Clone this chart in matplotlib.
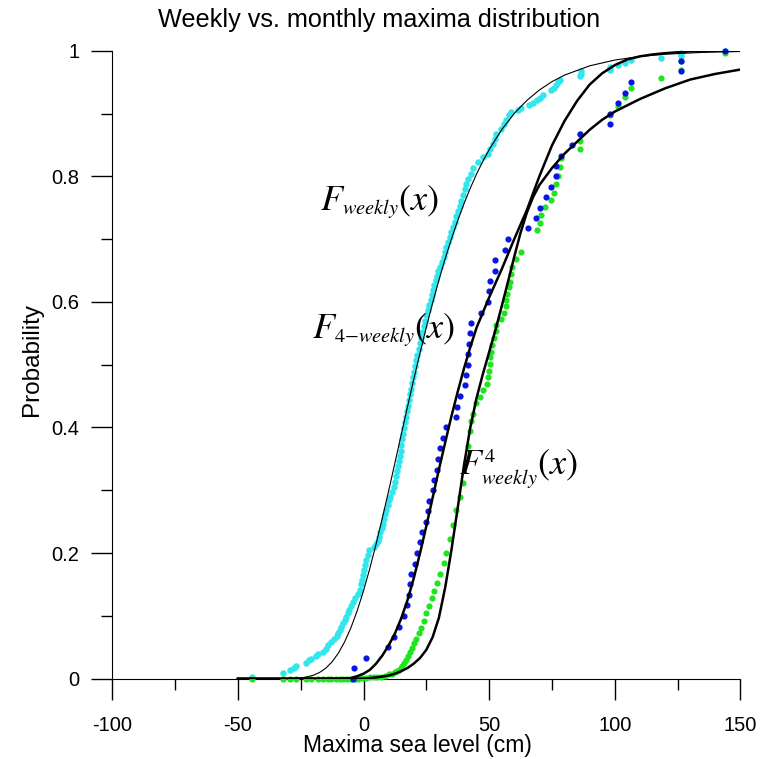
import numpy as np
import matplotlib
matplotlib.use("Agg")
import matplotlib.pyplot as plt
import matplotlib._mathtext as mathtext_core

plt.rcParams['font.family'] = ['Liberation Sans', 'DejaVu Sans']
plt.rcParams['mathtext.fontset'] = 'stix'
plt.rcParams['axes.unicode_minus'] = False
# smaller sub/superscripts in the curve labels
mathtext_core.SHRINK_FACTOR = 0.56

# weekly maxima, empirical distribution
weekly_x = [-44.4, -32.1, -29.1, -27.8, -27.0, -22.8, -21.8, -20.8, -19.0, -18.2,
            -16.2, -15.0, -14.2, -12.8, -11.8, -10.6, -10.0, -9.5, -8.8, -8.0,
            -7.5, -6.8, -6.2, -5.8, -5.1, -4.2, -3.4, -2.2, -1.6, -0.9,
            -0.6, -0.3, 0.0, 0.5, 1.1, 1.6, 2.2, 4.0, 5.1, 5.6,
            6.1, 6.6, 7.2, 7.7, 8.2, 8.6, 9.1, 9.6, 10.1, 10.6,
            11.4, 12.0, 12.6, 13.1, 13.5, 13.8, 14.1, 14.4, 14.8, 15.1,
            15.4, 15.7, 16.2, 16.7, 17.1, 17.4, 17.7, 18.0, 18.5, 19.0,
            19.4, 19.8, 20.2, 20.6, 21.0, 21.4, 21.9, 22.4, 22.9, 23.4,
            23.9, 24.3, 24.9, 25.5, 26.1, 26.7, 27.2, 27.6, 28.2, 28.8,
            29.3, 29.8, 30.5, 31.2, 31.9, 32.5, 33.0, 33.6, 34.3, 35.0,
            35.6, 36.3, 37.0, 37.6, 38.3, 39.0, 39.6, 40.3, 40.9, 41.6,
            42.9, 43.6, 45.5, 47.5, 49.5, 50.5, 51.5, 52.2, 52.9, 54.9,
            55.8, 56.8, 57.8, 58.8, 61.5, 62.8, 65.8, 67.4, 69.0, 70.2,
            71.4, 74.8, 75.8, 76.7, 77.5, 78.3, 86.3, 86.5, 86.7, 98.0,
            98.2, 101.3, 103.9, 106.3, 118.5, 126.5, 126.5, 143.7]
weekly_p = [0.003, 0.009, 0.014, 0.017, 0.020, 0.025, 0.029, 0.032, 0.036, 0.039,
            0.043, 0.048, 0.053, 0.058, 0.063, 0.068, 0.073, 0.078, 0.083, 0.088,
            0.093, 0.099, 0.104, 0.109, 0.115, 0.122, 0.128, 0.135, 0.142, 0.150,
            0.157, 0.165, 0.173, 0.181, 0.189, 0.197, 0.205, 0.210, 0.214, 0.220,
            0.226, 0.233, 0.240, 0.247, 0.255, 0.262, 0.269, 0.277, 0.285, 0.290,
            0.298, 0.306, 0.314, 0.322, 0.330, 0.338, 0.346, 0.354, 0.363, 0.372,
            0.381, 0.390, 0.399, 0.408, 0.417, 0.426, 0.435, 0.444, 0.453, 0.462,
            0.471, 0.480, 0.489, 0.498, 0.507, 0.516, 0.525, 0.534, 0.543, 0.552,
            0.561, 0.570, 0.579, 0.587, 0.595, 0.603, 0.611, 0.619, 0.627, 0.635,
            0.642, 0.649, 0.656, 0.664, 0.672, 0.680, 0.688, 0.696, 0.704, 0.712,
            0.720, 0.728, 0.736, 0.744, 0.752, 0.761, 0.770, 0.779, 0.788, 0.796,
            0.804, 0.813, 0.822, 0.830, 0.836, 0.844, 0.852, 0.860, 0.867, 0.876,
            0.883, 0.890, 0.897, 0.903, 0.906, 0.909, 0.913, 0.917, 0.921, 0.925,
            0.929, 0.937, 0.941, 0.945, 0.950, 0.954, 0.959, 0.963, 0.967, 0.970,
            0.974, 0.977, 0.981, 0.985, 0.989, 0.992, 0.996, 0.999]

# weekly distribution to the 4th power
pow4_x = [-44.4, -32.1, -29.1, -27.0, -22.8, -20.8, -18.2, -16.2, -14.2, -12.8,
          -11.0, -9.5, -8.0, -6.5, -5.0, -3.5, -2.0, -0.5, 1.0, 2.4,
          4.0, 5.5, 7.0, 8.5, 10.1, 11.4, 12.6, 13.5, 14.1, 14.8,
          15.4, 16.2, 17.1, 17.7, 18.5, 19.4, 20.2, 21.0, 21.9, 22.9,
          23.9, 24.9, 26.1, 27.2, 28.2, 29.3, 30.5, 31.9, 33.0, 34.3,
          35.6, 37.0, 38.3, 39.6, 40.9, 41.6, 42.2, 42.9, 43.6, 44.9,
          46.2, 47.5, 49.1, 49.5, 49.9, 50.2, 50.5, 50.9, 51.3, 51.8,
          52.6, 52.9, 54.9, 55.8, 56.6, 56.8, 57.1, 57.9, 58.2, 58.8,
          59.1, 60.8, 62.8, 69.0, 70.1, 70.8, 72.1, 74.8, 75.8, 76.7,
          77.5, 78.3, 78.7, 86.3, 86.3, 86.3, 98.0, 101.3, 103.9, 106.3,
          118.5, 126.5, 126.5, 143.7]
pow4_p = [0.000, 0.000, 0.000, 0.000, 0.000, 0.000, 0.000, 0.000, 0.000, 0.000,
          0.000, 0.000, 0.000, 0.000, 0.000, 0.000, 0.000, 0.001, 0.001, 0.002,
          0.002, 0.002, 0.003, 0.004, 0.007, 0.008, 0.010, 0.012, 0.014, 0.017,
          0.021, 0.025, 0.030, 0.036, 0.042, 0.049, 0.057, 0.064, 0.072, 0.081,
          0.092, 0.104, 0.116, 0.128, 0.140, 0.152, 0.167, 0.185, 0.200, 0.222,
          0.245, 0.268, 0.290, 0.312, 0.345, 0.370, 0.395, 0.410, 0.422, 0.439,
          0.449, 0.460, 0.470, 0.481, 0.490, 0.501, 0.512, 0.521, 0.531, 0.542,
          0.553, 0.563, 0.572, 0.583, 0.593, 0.603, 0.613, 0.623, 0.632, 0.644,
          0.656, 0.668, 0.679, 0.714, 0.726, 0.738, 0.751, 0.762, 0.774, 0.787,
          0.801, 0.815, 0.829, 0.843, 0.857, 0.868, 0.898, 0.912, 0.927, 0.940,
          0.956, 0.970, 0.984, 0.996]

# 4-weekly maxima, empirical distribution
month_x = [-4.2, -3.9, 1.1, 9.7, 12.0, 14.1, 16.2, 17.4, 18.1, 18.4,
           19.0, 20.6, 21.4, 22.3, 23.2, 24.7, 25.8, 26.0, 27.6, 27.9,
           29.2, 29.8, 30.6, 31.6, 32.8, 36.9, 37.4, 38.4, 40.3, 40.9,
           41.6, 41.6, 41.8, 42.2, 42.9, 46.9, 49.5, 49.9, 50.5, 52.2,
           52.5, 56.2, 57.5, 65.4, 68.8, 70.4, 72.5, 74.5, 76.5, 76.7,
           78.5, 82.9, 86.3, 98.0, 98.0, 101.3, 103.9, 106.3, 126.5, 126.5,
           143.7]
month_p = [0.000, 0.017, 0.033, 0.050, 0.067, 0.083, 0.100, 0.117, 0.133, 0.150,
           0.167, 0.183, 0.200, 0.217, 0.233, 0.250, 0.267, 0.283, 0.300, 0.317,
           0.333, 0.350, 0.367, 0.383, 0.400, 0.417, 0.433, 0.450, 0.467, 0.483,
           0.500, 0.517, 0.533, 0.550, 0.567, 0.583, 0.600, 0.617, 0.633, 0.650,
           0.667, 0.683, 0.700, 0.717, 0.733, 0.750, 0.767, 0.783, 0.800, 0.817,
           0.833, 0.850, 0.867, 0.883, 0.900, 0.917, 0.933, 0.950, 0.967, 0.983,
           1.000]

# fitted distribution of the weekly maxima
fw_x = [-50, -35, -30, -27.5, -25, -22.5, -20, -17.5, -15, -12.5,
        -10, -7.5, -5, -2.5, 0, 2.5, 5, 7.5, 10, 12.5,
        15, 17.5, 20, 22.5, 25, 27.5, 30, 32.5, 35, 37.5,
        40, 42.5, 45, 47.5, 50, 55, 60, 65, 70, 75,
        80, 90, 100, 110, 120, 135, 150]
fw_p = [0.0, 0.0, 0.0002, 0.0005, 0.0013, 0.0028, 0.0055, 0.0099, 0.0168, 0.0269,
        0.0408, 0.0588, 0.0813, 0.1085, 0.140, 0.1755, 0.2144, 0.2559, 0.2991, 0.3437,
        0.3885, 0.433, 0.4767, 0.519, 0.5596, 0.5982, 0.6346, 0.6687, 0.7003, 0.7295,
        0.7564, 0.7811, 0.8036, 0.8239, 0.8424, 0.8742, 0.900, 0.9208, 0.9374, 0.9507,
        0.9611, 0.9759, 0.9851, 0.9908, 0.9944, 0.9973, 0.9987]

# fitted distribution of the 4-weekly maxima
f4_x = [-50, -10, -5, -2.5, 0, 2.5, 5, 7.5, 10, 12.5,
        15, 17.5, 20, 22.5, 25, 27.5, 30, 32.5, 35, 37.5,
        40, 42.5, 45, 50, 55, 60, 65, 70, 75, 80,
        85, 90, 95, 100, 105, 110, 115, 120, 130, 140, 150]
f4_p = [0.0, 0.0, 0.001, 0.004, 0.008, 0.014, 0.024, 0.037, 0.053, 0.072,
        0.096, 0.125, 0.160, 0.200, 0.243, 0.288, 0.333, 0.376, 0.418, 0.457,
        0.494, 0.528, 0.559, 0.607, 0.652, 0.700, 0.746, 0.800, 0.849, 0.888,
        0.920, 0.946, 0.964, 0.977, 0.986, 0.991, 0.994, 0.996, 0.999, 1.0, 1.0]

# weekly fit raised to the 4th power
fp_x = [-50, 0, 5, 10, 12.5, 15, 17.5, 20, 22.5, 25,
        27.5, 30, 32.5, 35, 37.5, 40, 42.5, 45, 47.5, 50,
        52.5, 55, 57.5, 60, 62.5, 65, 67.5, 70, 75, 80,
        85, 90, 95, 100, 110, 120, 130, 140, 150]
fp_p = [0.0, 0.0, 0.002, 0.005, 0.008, 0.012, 0.017, 0.024, 0.033, 0.046,
        0.066, 0.097, 0.145, 0.205, 0.272, 0.340, 0.400, 0.447, 0.485, 0.520,
        0.555, 0.593, 0.632, 0.672, 0.710, 0.742, 0.767, 0.786, 0.813, 0.836,
        0.855, 0.874, 0.890, 0.903, 0.923, 0.940, 0.954, 0.963, 0.970]

x_ticks = [-100, -50, 0, 50, 100, 150]
x_minor = [-75, -25, 25, 75, 125]
y_ticks = [0, 0.2, 0.4, 0.6, 0.8, 1]
y_labels = ['0', '0.2', '0.4', '0.6', '0.8', '1']
y_minor = [0.1, 0.3, 0.5, 0.7, 0.9]

fig = plt.figure(figsize=(7.63, 7.59), dpi=100)
ax = fig.add_axes([0.1472, 0.1058, 0.8231, 0.8274])

ax.scatter(weekly_x, weekly_p, s=22, color='#33E6EE', linewidths=0, zorder=2, clip_on=False)
ax.scatter(pow4_x, pow4_p, s=20, color='#1EE61E', linewidths=0, zorder=3, clip_on=False)
ax.scatter(month_x, month_p, s=20, color='#0A14E6', linewidths=0, zorder=4, clip_on=False)

ax.plot(fw_x, fw_p, color='black', lw=0.8, zorder=5)
ax.plot(f4_x, f4_p, color='black', lw=1.8, zorder=5)
ax.plot(fp_x, fp_p, color='black', lw=1.8, zorder=5)

ax.text(-17.5, 0.746, r'$F_{weekly}(x)$', fontsize=26)
ax.text(-20.5, 0.542, r'$F_{4{-}weekly}(x)$', fontsize=26)
ax.text(38.0, 0.324, r'$F^4_{weekly}(x)$', fontsize=26)

ax.set_xlim(-100, 150)
ax.set_ylim(0, 1)
ax.spines['top'].set_visible(False)
ax.spines['right'].set_visible(False)
ax.set_xticks(x_ticks)
ax.set_xticklabels([str(v) for v in x_ticks])
ax.set_xticks(x_minor, minor=True)
ax.set_yticks(y_ticks)
ax.set_yticklabels(y_labels)
ax.set_yticks(y_minor, minor=True)
ax.tick_params(which='major', direction='out', length=14.8, width=1, labelsize=14.5)
ax.tick_params(axis='x', which='major', pad=12)
ax.tick_params(axis='y', which='major', pad=9)
ax.tick_params(which='minor', direction='out', length=7.7, width=1)

fig.text(0.5465, 0.0184, 'Maxima sea level (cm)', fontsize=16.5, ha='center', va='center')
fig.text(0.0419, 0.526, 'Probability', fontsize=17.5, rotation=90, ha='center', va='center')
fig.text(0.497, 0.974, 'Weekly vs. monthly maxima distribution', fontsize=18.2,
         ha='center', va='center')

fig.savefig('out.png', dpi=100)
